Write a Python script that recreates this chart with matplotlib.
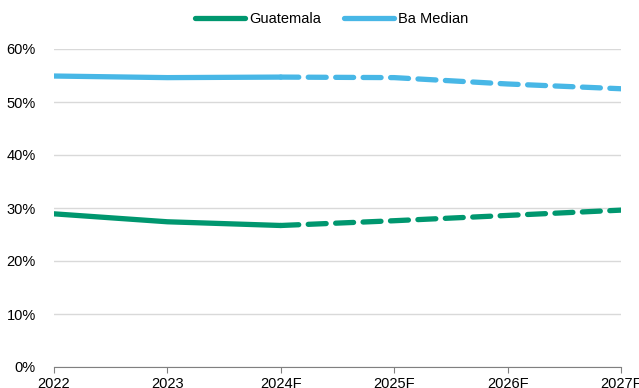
import matplotlib.pyplot as plt
from matplotlib.ticker import PercentFormatter

years = ["2022", "2023", "2024F", "2025F", "2026F", "2027F"]
guatemala = [28.9, 27.4, 26.7, 27.6, 28.6, 29.6]
ba_median = [54.9, 54.6, 54.7, 54.6, 53.4, 52.5]

green = "#00976F"
blue = "#48B7E6"

plt.rcParams["font.family"] = ["Liberation Sans", "DejaVu Sans"]

fig = plt.figure(figsize=(6.39, 3.88), dpi=100)
ax = fig.add_axes([54 / 639, 21 / 388, 567 / 639, 318 / 388])

x = list(range(len(years)))
split = 2  # 2024F: actuals end, forecasts start
lw = 3.8

ax.plot(x[:split + 1], guatemala[:split + 1], color=green, lw=lw,
        solid_capstyle="round", label="Guatemala")
ax.plot(x[split:], guatemala[split:], color=green, lw=lw,
        dashes=(3.4, 1.8), dash_capstyle="round")
ax.plot(x[:split + 1], ba_median[:split + 1], color=blue, lw=lw,
        solid_capstyle="round", label="Ba Median")
ax.plot(x[split:], ba_median[split:], color=blue, lw=lw,
        dashes=(3.4, 1.8), dash_capstyle="round")

ax.set_xlim(0, len(years) - 1)
ax.set_ylim(0, 60)
ax.set_yticks(range(0, 61, 10))
ax.yaxis.set_major_formatter(PercentFormatter(decimals=0))
ax.set_xticks(x)
ax.set_xticklabels(years)

ax.grid(axis="y", color="#D9D9D9", lw=1)
ax.set_axisbelow(True)
for s in ["top", "right", "left"]:
    ax.spines[s].set_visible(False)
ax.spines["bottom"].set_color("#808080")
ax.tick_params(axis="y", length=0, labelsize=10.5, pad=13)
ax.tick_params(axis="x", length=4, color="#808080", labelsize=10.5, pad=3)

ax.legend(loc="center", bbox_to_anchor=(0.49, 1.095), ncol=2,
          frameon=False, fontsize=10.5, handlelength=3.4, columnspacing=1.6,
          handletextpad=0.3)

fig.savefig("out.png", dpi=100)
